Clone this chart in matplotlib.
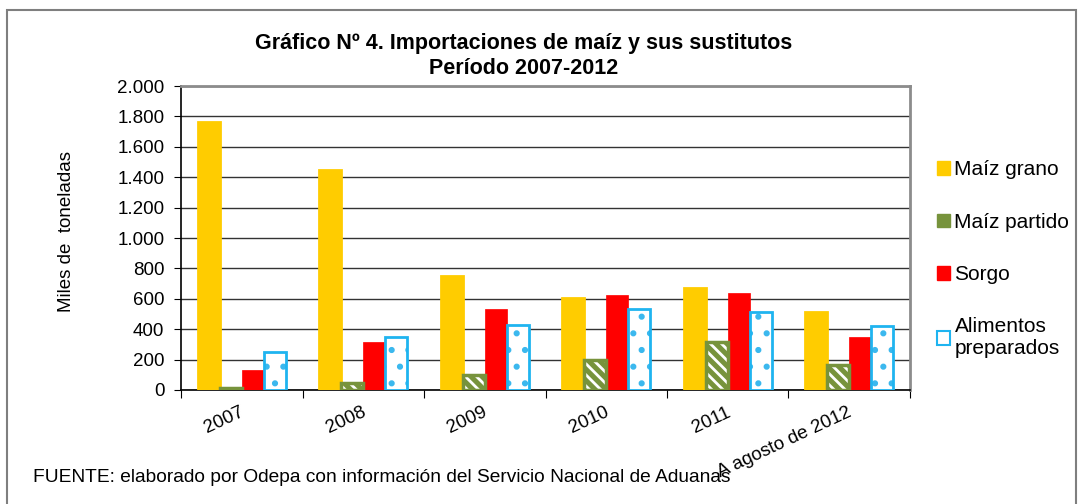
import numpy as np
import matplotlib.pyplot as plt
import matplotlib.ticker as mticker
import matplotlib.transforms as mtrans
from matplotlib.patches import Rectangle, Patch

# data (miles de toneladas)
years = ["2007", "2008", "2009", "2010", "2011", "A agosto de 2012"]
maiz_grano = [1760, 1447, 753, 605, 673, 516]
maiz_partido = [11, 48, 96, 197, 313, 164]
sorgo = [131, 313, 536, 623, 636, 348]
alimentos = [247, 348, 426, 536, 511, 422]

plt.rcParams['font.family'] = ['Liberation Sans', 'DejaVu Sans']
plt.rcParams['hatch.linewidth'] = 2.0

fig = plt.figure(figsize=(10.81, 5.04), dpi=100)
ax = fig.add_axes([181 / 1081, 1 - 390 / 504, 729 / 1081, 304 / 504])

x = np.arange(len(years))
w = 0.18
step = 0.182

# maiz grano
ax.bar(x - 1.5 * step, maiz_grano, w, color='#FFCC00', edgecolor='#FFCC00',
       linewidth=2, zorder=3)
# maiz partido: olive with white stripes, olive border
ax.bar(x - 0.5 * step, maiz_partido, w, color='#77933C', edgecolor='white',
       hatch='\\\\\\', linewidth=0, zorder=3)
ax.bar(x - 0.5 * step, maiz_partido, w, color='none', edgecolor='#77933C',
       linewidth=2.5, zorder=4)
# sorgo
ax.bar(x + 0.5 * step, sorgo, w, color='#FF0000', edgecolor='#FF0000',
       linewidth=0.5, zorder=3)
# alimentos preparados: white with cyan dots
ax.bar(x + 1.5 * step, alimentos, w, color='white', edgecolor='#3BB8EE',
       hatch='.', linewidth=0, zorder=3)
ax.bar(x + 1.5 * step, alimentos, w, color='none', edgecolor='#1FB4F0',
       linewidth=2, zorder=4)

ax.set_xlim(-0.5, len(years) - 0.5)
ax.set_ylim(0, 2000)
ax.yaxis.set_major_locator(mticker.MultipleLocator(200))
ax.yaxis.set_major_formatter(mticker.FuncFormatter(
    lambda v, p: f"{int(v):,}".replace(",", ".")))
ax.grid(axis='y', color='#333333', linewidth=1, zorder=0)
ax.set_axisbelow(True)

# ticks between categories, labels at centres
ax.set_xticks(np.arange(len(years) + 1) - 0.5)
ax.set_xticklabels([])
ax.set_xticks(x, minor=True)
ax.set_xticklabels(years, minor=True, rotation=25, ha='right',
                   rotation_mode='anchor', fontsize=13.5)
ax.tick_params(axis='x', which='minor', length=0, pad=10)
ax.tick_params(axis='x', which='major', length=6, direction='out', color='black')
ax.tick_params(axis='y', length=5, direction='out', labelsize=13.5, pad=7)

off = mtrans.ScaledTranslation(-2 / 100, 0, fig.dpi_scale_trans)
for lbl in ax.xaxis.get_minorticklabels():
    lbl.set_transform(lbl.get_transform() + off)

for s in ['left', 'bottom']:
    ax.spines[s].set_color('black')
    ax.spines[s].set_linewidth(1.2)
for s in ['right', 'top']:
    ax.spines[s].set_color('#8C8C8C')
    ax.spines[s].set_linewidth(2)

ax.set_ylabel('Miles de  toneladas', fontsize=13.5)
ax.yaxis.set_label_coords((75 - 181) / 729, 0.523)

fig.text(0.484, 1 - 44 / 504, 'Gráfico Nº 4. Importaciones de maíz y sus sustitutos',
         ha='center', va='center', fontsize=15.5, fontweight='bold')
fig.text(0.484, 1 - 68 / 504, 'Período 2007-2012',
         ha='center', va='center', fontsize=15.5, fontweight='bold')

fig.text(33 / 1081, 1 - 478 / 504,
         'FUENTE: elaborado por Odepa con información del Servicio Nacional de Aduanas',
         ha='left', va='center', fontsize=13.75)

handles = [
    Patch(facecolor='#FFCC00', edgecolor='#FFCC00'),
    Patch(facecolor='#77933C', edgecolor='#77933C', hatch='\\\\'),
    Patch(facecolor='#FF0000', edgecolor='#FF0000'),
    Patch(facecolor='white', edgecolor='#1FB4F0', linewidth=1.5),
]
labels = ['Maíz grano', 'Maíz partido', 'Sorgo', 'Alimentos\npreparados']
fig.legend(handles, labels, loc='upper left',
           bbox_to_anchor=(927 / 1081, 1 - 150 / 504), frameon=False,
           fontsize=15, handlelength=0.62, handleheight=0.62,
           handletextpad=0.2, labelspacing=1.6, borderpad=0)

# outer chart frame
fig.patches.append(Rectangle((7 / 1081, -0.05), 1069 / 1081, 1.05 - 10 / 504,
                             transform=fig.transFigure, fill=False,
                             edgecolor='#7F7F7F', linewidth=1.5))

fig.savefig('out.png', dpi=100)
